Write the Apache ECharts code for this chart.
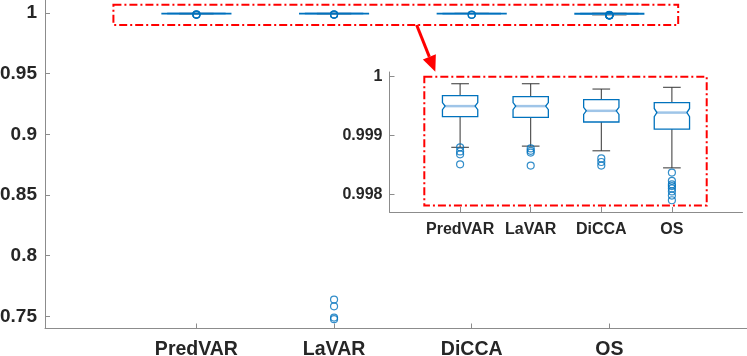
<!DOCTYPE html>
<html>
<head>
<meta charset="utf-8">
<script src="https://cdn.jsdelivr.net/npm/echarts@6/dist/echarts.min.js"></script>
<style>
  html, body { margin: 0; padding: 0; background: #fff; }
  #chart { width: 747px; height: 356px; }
</style>
</head>
<body>
<div id="chart"></div>
<script>
// values
const categories = ['PredVAR', 'LaVAR', 'DiCCA', 'OS'];
const whiskerHigh = [0.99988, 0.99988, 0.99979, 0.99982];
const q3 = [0.99968, 0.99966, 0.99961, 0.99956];
const median = [0.99950, 0.99950, 0.99942, 0.99939];
const q1 = [0.99932, 0.99931, 0.99923, 0.99911];
const whiskerLow = [0.99880, 0.99882, 0.99874, 0.99845];
const notchLow = [0.99944, 0.99944, 0.99936, 0.99932];
const notchHigh = [0.99956, 0.99956, 0.99948, 0.99946];
const outliers = [
    [0.99880, 0.99873, 0.99868, 0.99851],
    [0.99878, 0.99874, 0.99871, 0.99849, 0.7638, 0.7583, 0.7490, 0.7477],
    [0.99861, 0.99855, 0.99849],
    [0.99837, 0.99823, 0.99817, 0.99814, 0.99810, 0.99805, 0.99798, 0.99790]
];
const mainYTicks = [0.75, 0.8, 0.85, 0.9, 0.95, 1];
const insetYTicks = [0.998, 0.999, 1];
const catTicks = [1, 2, 3, 4];

const BLUE = '#0072BD';
const MEDIAN_BLUE = '#9fc5e8';
const WHISKER = '#333333';
const AXIS = '#8c8c8c';
const TEXT = '#262626';
const FONT = 'Liberation Sans';

const boxData = categories.map((c, i) =>
    [i + 1, whiskerLow[i], q1[i], median[i], q3[i], whiskerHigh[i], notchLow[i], notchHigh[i]]);
const outlierData = [];
outliers.forEach((list, i) => list.forEach(v => outlierData.push([i + 1, v])));

/**
 * notched box like MATLAB boxplot(...,'notch','on')
 */
const renderBox = (params, api) => {
    const x = api.value(0);
    const px = dx => api.coord([x + dx, api.value(3)])[0];
    const py = idx => api.coord([x, api.value(idx)])[1];
    const cx = px(0), l = px(-0.25), r = px(0.25);
    const cl = px(-0.125), cr = px(0.125);
    const ind = (r - l) * 0.075;
    const yLo = py(1), yQ1 = py(2), yMed = py(3), yQ3 = py(4), yHi = py(5), yNLo = py(6), yNHi = py(7);
    const line = (x1, y1, x2, y2, stroke, w) => ({
        type: 'line',
        shape: {x1, y1, x2, y2},
        style: {stroke, lineWidth: w}
    });
    return {
        type: 'group',
        children: [
            line(cx, yQ3, cx, yHi, WHISKER, 1),
            line(cx, yQ1, cx, yLo, WHISKER, 1),
            line(cl, yHi, cr, yHi, WHISKER, 1),
            line(cl, yLo, cr, yLo, WHISKER, 1),
            line(l + ind, yMed, r - ind, yMed, MEDIAN_BLUE, 2.5),
            {
                type: 'polygon',
                shape: {
                    points: [[l, yQ1], [l, yNLo], [l + ind, yMed], [l, yNHi], [l, yQ3],
                        [r, yQ3], [r, yNHi], [r - ind, yMed], [r, yNLo], [r, yQ1]]
                },
                style: {fill: 'none', stroke: BLUE, lineWidth: 1.3}
            }
        ]
    };
};

const axisX = (gridIndex, min, max, fontSize, margin) => ({
    type: 'value', gridIndex, min, max,
    axisLine: {onZero: false, lineStyle: {color: AXIS, width: 1}},
    axisTick: {inside: true, length: 5, customValues: catTicks, lineStyle: {color: AXIS}},
    axisLabel: {
        customValues: catTicks, margin,
        formatter: v => categories[Math.round(v) - 1] || '',
        color: TEXT, fontFamily: FONT, fontWeight: 'bold', fontSize
    },
    splitLine: {show: false}
});

const axisY = (gridIndex, min, max, ticks, fontSize, margin) => ({
    type: 'value', gridIndex, min, max,
    axisLine: {show: true, onZero: false, lineStyle: {color: AXIS, width: 1}},
    axisTick: {show: true, inside: true, length: 5, customValues: ticks, lineStyle: {color: AXIS}},
    axisLabel: {
        customValues: ticks, margin,
        formatter: v => String(parseFloat(v.toFixed(4))),
        color: TEXT, fontFamily: FONT, fontWeight: 'bold', fontSize
    },
    splitLine: {show: false}
});

const chart = echarts.init(document.getElementById('chart'), null, {renderer: 'canvas'});

chart.setOption({
    animation: false,
    backgroundColor: '#fff',
    grid: [
        {left: 45, right: 0, top: 0, height: 328.5, outerBoundsMode: 'none', containLabel: false},
        {left: 389.5, width: 353, top: 72, height: 140, outerBoundsMode: 'none', containLabel: false}
    ],
    xAxis: [
        axisX(0, -0.1, 5, 19.5, 11),
        axisX(1, 0, 5, 16, 10)
    ],
    yAxis: [
        axisY(0, 0.74, 1.0107, mainYTicks, 19, 8),
        axisY(1, 0.9977, 1.00008, insetYTicks, 16, 7)
    ],
    series: [
        {type: 'custom', xAxisIndex: 0, yAxisIndex: 0, renderItem: renderBox, data: boxData, silent: true},
        {
            type: 'scatter', xAxisIndex: 0, yAxisIndex: 0, data: outlierData, symbol: 'circle', symbolSize: 7,
            itemStyle: {color: 'rgba(0,0,0,0)', borderColor: BLUE, borderWidth: 1.2}, silent: true
        },
        {type: 'custom', xAxisIndex: 1, yAxisIndex: 1, renderItem: renderBox, data: boxData, silent: true},
        {
            type: 'scatter', xAxisIndex: 1, yAxisIndex: 1, data: outlierData, symbol: 'circle', symbolSize: 7,
            itemStyle: {color: 'rgba(0,0,0,0)', borderColor: BLUE, borderWidth: 1.2}, silent: true
        }
    ]
});

// zoom frames and arrow, placed from the axes
const DASH = [8, 3, 2, 3];
const frame = (gridIndex, x0, y0, x1, y1) => {
    const a = chart.convertToPixel({gridIndex}, [x0, y0]);
    const b = chart.convertToPixel({gridIndex}, [x1, y1]);
    return {
        type: 'rect',
        shape: {x: a[0], y: a[1], width: b[0] - a[0], height: b[1] - a[1]},
        style: {fill: 'none', stroke: '#ff0000', lineWidth: 2, lineDash: DASH},
        silent: true
    };
};
const mainFrame = frame(0, 0.397, 1.0068, 4.5, 0.9901);
const insetFrame = frame(1, 0.493, 1.0, 4.493, 0.99781);

const start = [chart.convertToPixel({gridIndex: 0}, [2.6, 0.9901])[0], mainFrame.shape.y + mainFrame.shape.height];
const tip = [insetFrame.shape.x + 11, insetFrame.shape.y - 5];
const ang = Math.atan2(tip[1] - start[1], tip[0] - start[0]);
const headLen = 16, headHalf = 7;
const base = [tip[0] - headLen * Math.cos(ang), tip[1] - headLen * Math.sin(ang)];
const nx = -Math.sin(ang), ny = Math.cos(ang);

chart.setOption({
    graphic: [
        mainFrame,
        insetFrame,
        {
            type: 'line', silent: true,
            shape: {x1: start[0], y1: start[1], x2: base[0], y2: base[1]},
            style: {stroke: '#ff0000', lineWidth: 3}
        },
        {
            type: 'polygon', silent: true,
            shape: {
                points: [tip, [base[0] + nx * headHalf, base[1] + ny * headHalf],
                    [base[0] - nx * headHalf, base[1] - ny * headHalf]]
            },
            style: {fill: '#ff0000'}
        }
    ]
});
</script>
</body>
</html>
